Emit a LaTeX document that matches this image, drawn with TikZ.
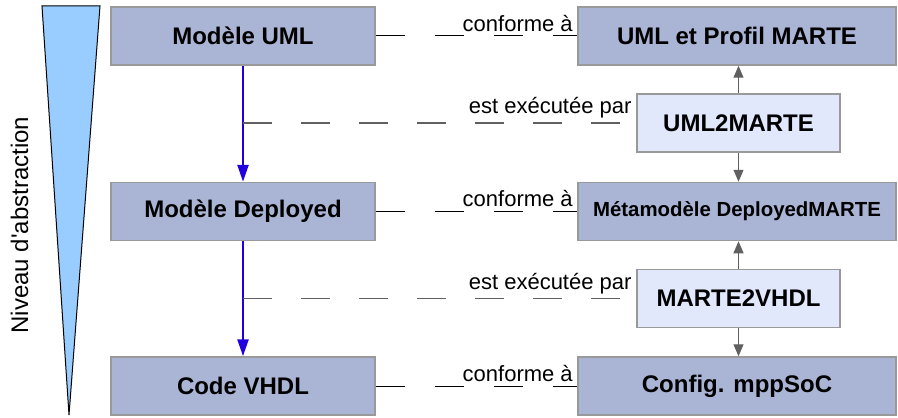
\documentclass[tikz,border=0pt]{standalone}
\usepackage{fontspec}
\setmainfont{Liberation Sans}
\usetikzlibrary{arrows.meta}
\definecolor{boxblue}{RGB}{170,180,212}
\definecolor{boxlight}{RGB}{225,232,252}
\definecolor{tribleu}{RGB}{153,204,255}
\definecolor{flecheblue}{RGB}{34,0,221}
\begin{document}
\begin{tikzpicture}[
    x=0.5pt, y=-0.5pt,
    modele/.style={draw=gray!80, line width=0.75pt, fill=boxblue, minimum height=29pt,
                   inner sep=0pt, font=\bfseries\fontsize{12}{14}\selectfont},
    transfo/.style={modele, fill=boxlight, minimum width=101.5pt},
    raffine/.style={-{Triangle[length=8.5pt,width=5.5pt]}, line width=1.25pt, flecheblue},
    lien/.style={{Triangle[length=6pt,width=5pt]}-, line width=0.6pt, gray!75!black},
    conf/.style={line width=0.5pt, dash pattern=on 14.5pt off 15pt},
    exec/.style={line width=0.75pt, gray!75!black, dash pattern=on 14.5pt off 14.5pt},
    lbl/.style={font=\fontsize{11}{13}\selectfont, text=black, inner sep=2pt},
  ]
    \useasboundingbox (0,0) rectangle (898,417);

    % axe d'abstraction
    \draw[fill=tribleu, line width=0.5pt] (42,6) -- (100,6) -- (69,415) -- cycle;
    \node[rotate=90, font=\fontsize{12}{14}\selectfont] (axe) at (19.5,225) {Niveau d\textquotesingle abstraction};

    % modeles
    \node[modele, minimum width=132pt] (mu) at (243,36)    {Modèle UML};
    \node[modele, minimum width=132pt] (md) at (243,211.5) {Modèle Deployed};
    \node[modele, minimum width=132pt] (mc) at (243,386)   {Code VHDL};

    % metamodeles
    \node[modele, minimum width=159pt] (mp) at (737,36)    {UML et Profil MARTE};
    \node[modele, minimum width=159pt, font=\bfseries\fontsize{10.2}{12}\selectfont]
                                       (mm) at (737,211.5) {Métamodèle DeployedMARTE};
    \node[modele, minimum width=159pt] (ms) at (737,386)   {Config. mppSoC};

    % transformations
    \node[transfo] (t1) at (738.5,123)   {UML2MARTE};
    \node[transfo] (t2) at (738.5,298.5) {MARTE2VHDL};

    \draw[raffine] (mu) -- (md);
    \draw[raffine] (md) -- (mc);

    \draw[lien] (mp.south -| t1) -- (t1);
    \draw[lien] (mm.north -| t1) -- (t1);
    \draw[lien] (mm.south -| t2) -- (t2);
    \draw[lien] (ms.north -| t2) -- (t2);

    \draw[conf] (mu.east) -- (mp.west) node[lbl, above left, pos=1] {conforme à};
    \draw[conf] (md.east) -- (mm.west) node[lbl, above left, pos=1] {conforme à};
    \draw[conf] (mc.east) -- (ms.west) node[lbl, above left, pos=1] {conforme à};

    \draw[exec] (mu.south |- t1) -- (t1.west) node[lbl, above left, pos=1] {est exécutée par};
    \draw[exec] (md.south |- t2) -- (t2.west) node[lbl, above left, pos=1] {est exécutée par};
  \end{tikzpicture}
\end{document}
